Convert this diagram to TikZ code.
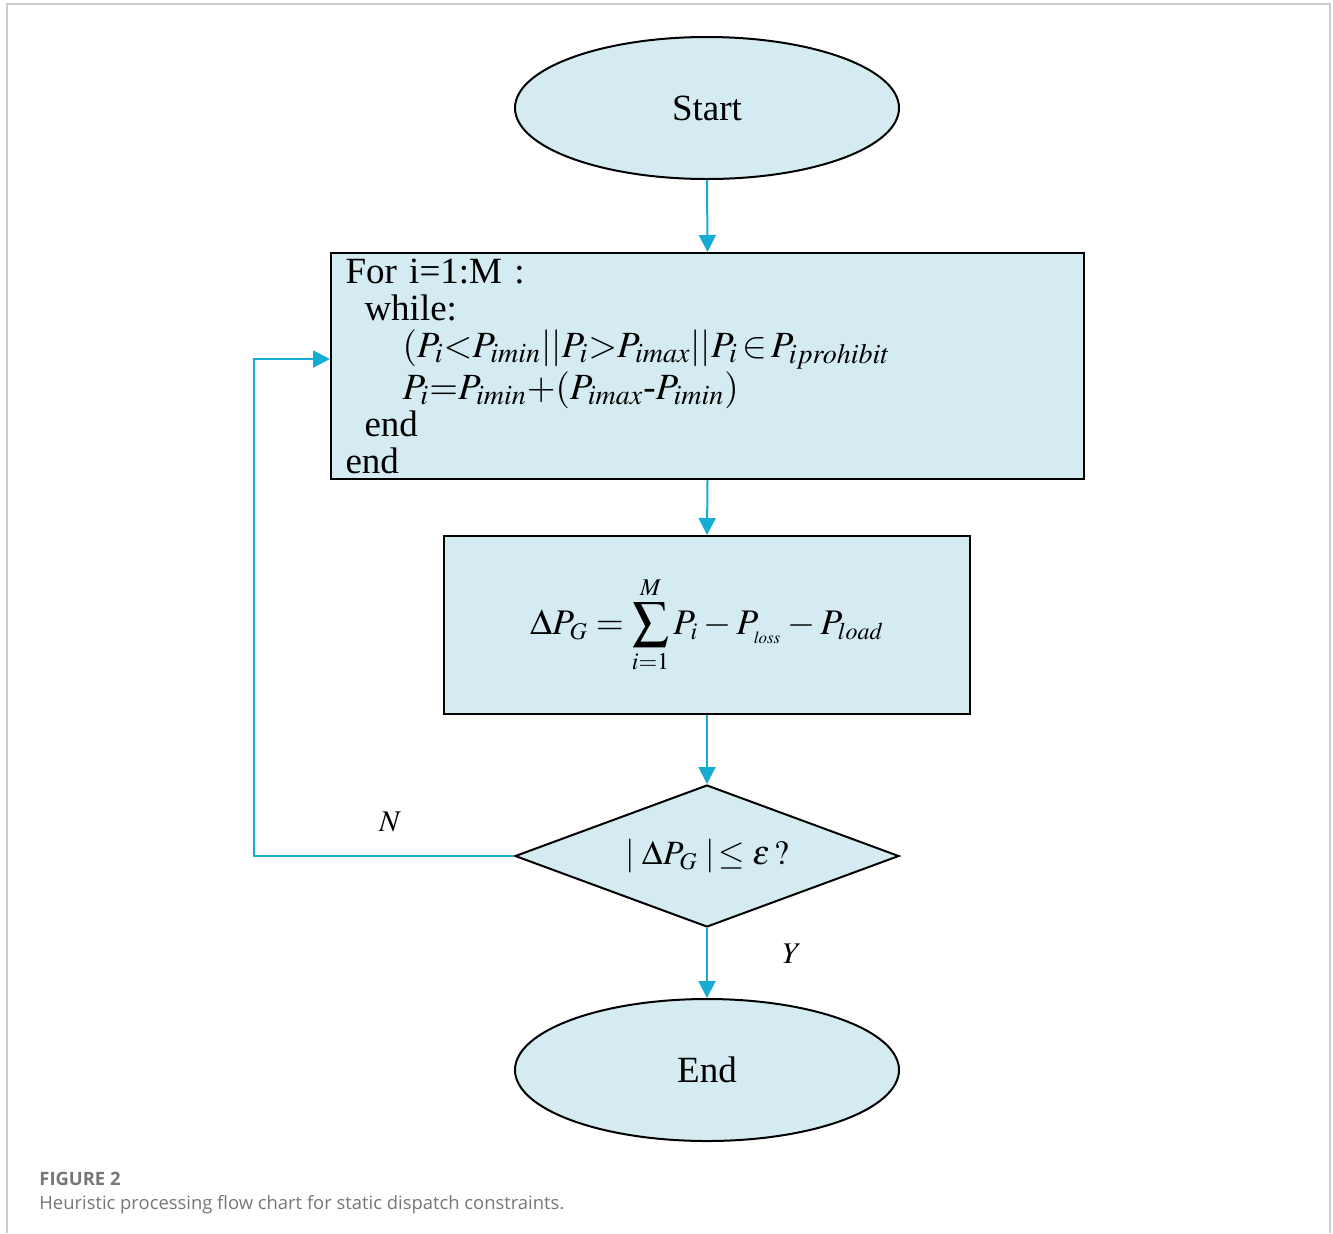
\documentclass[tikz,border=0pt]{standalone}
\usepackage{mathptmx}
\usepackage{fontspec}
\setmainfont{Liberation Serif}
\newfontfamily\capfont{Open Sans}
\DeclareMathSizes{18.5}{18.5}{14}{10}
\DeclareMathSizes{18}{18}{12}{8.5}
\DeclareMathSizes{17}{17}{12}{9}
\usetikzlibrary{shapes.geometric,arrows.meta,calc}
\definecolor{boxfill}{RGB}{212,236,241}
\definecolor{arrcol}{RGB}{22,172,212}
\definecolor{framecol}{RGB}{204,204,204}
\definecolor{capcol}{RGB}{118,118,118}
\tikzset{
  shapebase/.style={draw=black, line width=1pt, fill=boxfill, inner sep=0pt},
  termnode/.style={shapebase, ellipse, minimum width=192pt, minimum height=71pt, font=\fontsize{18.5}{20}\selectfont},
  procbox/.style={shapebase, rectangle},
  decnode/.style={shapebase, diamond, shape aspect=2.7, minimum width=192pt, minimum height=71pt, font=\fontsize{17}{18}\selectfont},
  arr/.style={draw=arrcol, line width=1pt, -{Triangle[length=8.5pt,width=8.5pt]}},
  lbl/.style={font=\fontsize{15}{18}\selectfont, inner sep=0pt},
}
\begin{document}
\begin{tikzpicture}[x=0.5pt,y=-0.5pt]
\useasboundingbox (0,0) rectangle (1333,1233);
% frame
\draw[framecol, line width=1pt] (7,1233) -- (7,4) -- (1330,4) -- (1330,1233);
% nodes
\node[termnode] (start) at (707,108) {Start};
\node[procbox, minimum width=376.5pt, minimum height=113pt, text width=362pt, align=left,
      font=\fontsize{18.5}{18.5}\selectfont] (forbox) at (707.5,366)
 {For i=1:M :\\
  \hspace*{9.5pt}while:\\
  \hspace*{28.5pt}$(P_i{<}P_{imin}||P_i{>}P_{imax}||P_i \,{\in}\, P_{iprohibit}$\\
  \hspace*{28.5pt}$P_i{=}P_{imin}{+}(P_{imax}\mbox{-}P_{imin})$\\
  \hspace*{9.5pt}end\\
  end};
\node[procbox, minimum width=263pt, minimum height=89pt, font=\fontsize{18}{20}\selectfont] (sumbox) at (707,625)
 {$\Delta P_G=\displaystyle\sum_{i=1}^{M}P_i-P_{_{\scriptscriptstyle\mathit{loss}}}-P_{load}$};
\node[decnode] (dec) at (707,856) {$|\;\Delta P_G\;|\!\leq\varepsilon\,?$};
\node[termnode] (stop) at (707,1070) {End};
% connectors
\draw[arr] (start.south) -- (forbox.north);
\draw[arr] (forbox.south) -- (sumbox.north);
\draw[arr] (sumbox.south) -- (dec.north);
\draw[arr] (dec.south) -- (stop.north);
\coordinate (loopc) at (254,856);
\draw[arr] (dec.west) -- (loopc) |- ([yshift=3.5pt]forbox.west);
% labels
\node[lbl] (nlab) at (390,822) {$N$};
\node[lbl] (ylab) at (792,954) {$Y$};
% caption
\node[anchor=base west, inner sep=0pt, text=capcol, font=\capfont\fontsize{9.2}{10}\selectfont\bfseries] (figlab) at (39,1185) {FIGURE 2};
\node[anchor=base west, inner sep=0pt, text=capcol, font=\capfont\fontsize{9.2}{10}\selectfont] (figcap) at (39,1209) {Heuristic processing flow chart for static dispatch constraints.};
\end{tikzpicture}
\end{document}
